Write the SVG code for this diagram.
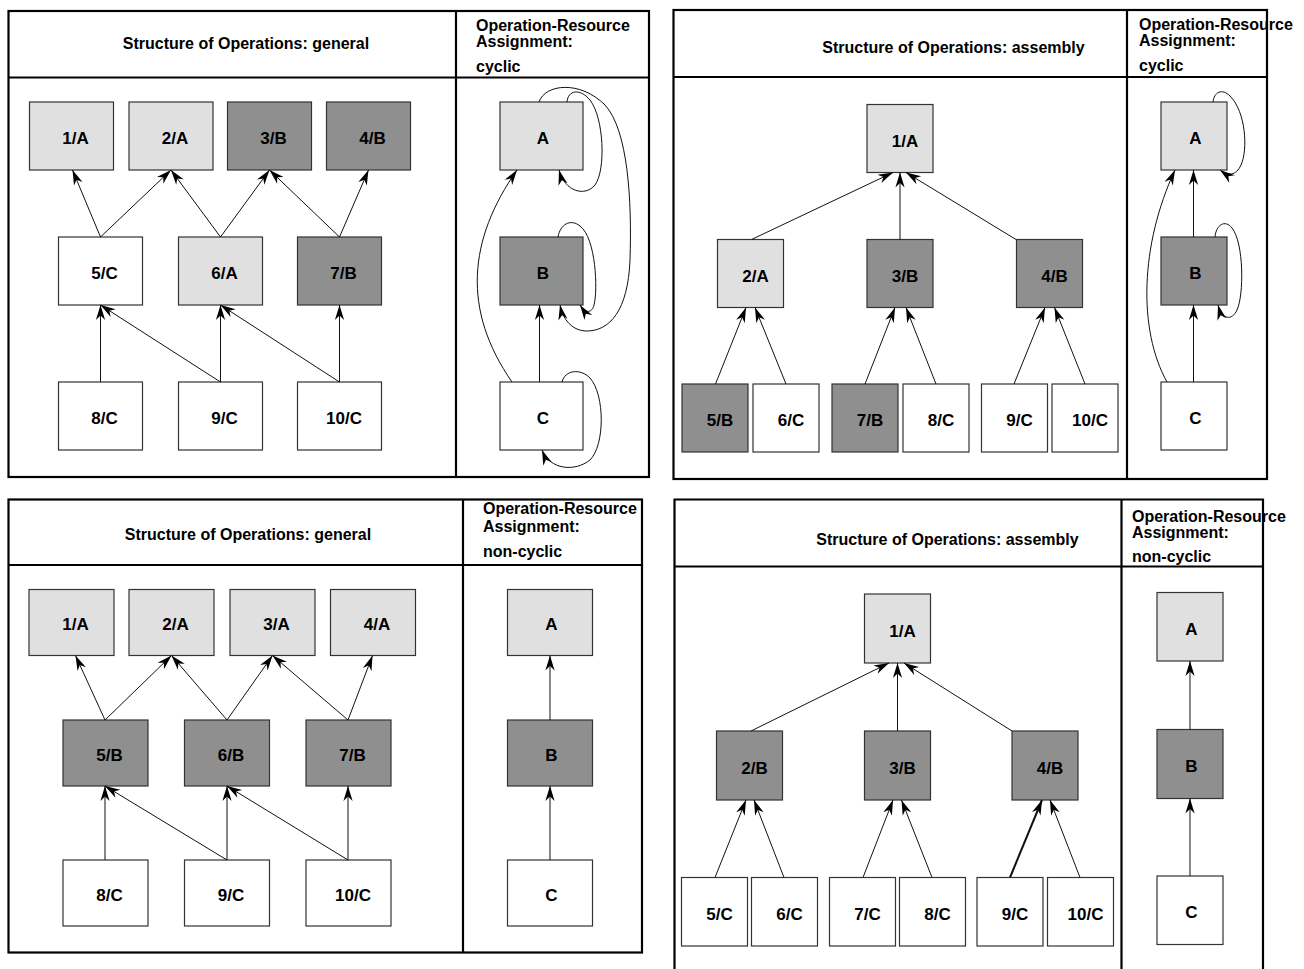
<svg xmlns="http://www.w3.org/2000/svg" width="1304" height="969" viewBox="0 0 1304 969">
<style>
text{font-family:"Liberation Sans",Arial,Helvetica,sans-serif;font-weight:bold;font-size:16px;fill:#000}
.lbl{text-anchor:middle;font-size:17px}
.ttl{text-anchor:middle}
.frame{fill:none;stroke:#000;stroke-width:2.2}
.light{fill:#e0e0e0;stroke:#333;stroke-width:1.2}
.dark{fill:#8f8f8f;stroke:#333;stroke-width:1.2}
.white{fill:#fff;stroke:#333;stroke-width:1.2}
.e{fill:none;stroke:#111;stroke-width:1;marker-end:url(#ah)}
.thick{stroke-width:2}
</style>
<defs>
<marker id="ah" viewBox="-16 -6 17 12" refX="0" refY="0" markerWidth="17" markerHeight="12" markerUnits="userSpaceOnUse" orient="auto">
<path d="M0,0 L-15,-4.6 L-10.5,0 L-15,4.6 Z" fill="#000"/>
</marker>
</defs>
<rect width="1304" height="969" fill="#fff"/>

<!-- Panel 1: top-left -->
<g id="panel1">
<rect class="frame" x="8.5" y="11" width="640.5" height="466"/>
<line class="frame" x1="456" y1="11" x2="456" y2="477"/>
<line class="frame" x1="8.5" y1="77.5" x2="649" y2="77.5"/>
<text class="ttl" x="246" y="48.5">Structure of Operations: general</text>
<text x="476" y="30.5">Operation-Resource</text>
<text x="476" y="47">Assignment:</text>
<text x="476" y="72">cyclic</text>
</g>
<g id="p1-n1"><rect class="light" x="29.5" y="102" width="84" height="68"/><text class="lbl" x="75.5" y="144">1/A</text></g>
<g id="p1-n2"><rect class="light" x="129" y="102" width="84" height="68"/><text class="lbl" x="175" y="144">2/A</text></g>
<g id="p1-n3"><rect class="dark" x="227.5" y="102" width="84" height="68"/><text class="lbl" x="273.5" y="144">3/B</text></g>
<g id="p1-n4"><rect class="dark" x="326.5" y="102" width="84" height="68"/><text class="lbl" x="372.5" y="144">4/B</text></g>
<g id="p1-n5"><rect class="white" x="58.5" y="237" width="84" height="68"/><text class="lbl" x="104.5" y="279">5/C</text></g>
<g id="p1-n6"><rect class="light" x="178.5" y="237" width="84" height="68"/><text class="lbl" x="224.5" y="279">6/A</text></g>
<g id="p1-n7"><rect class="dark" x="297.5" y="237" width="84" height="68"/><text class="lbl" x="343.5" y="279">7/B</text></g>
<g id="p1-n8"><rect class="white" x="58.5" y="382" width="84" height="68"/><text class="lbl" x="104.5" y="424">8/C</text></g>
<g id="p1-n9"><rect class="white" x="178.5" y="382" width="84" height="68"/><text class="lbl" x="224.5" y="424">9/C</text></g>
<g id="p1-n10"><rect class="white" x="297.5" y="382" width="84" height="68"/><text class="lbl" x="344" y="424">10/C</text></g>
<g id="p1-rA"><rect class="light" x="500" y="102" width="83" height="68"/><text class="lbl" x="543" y="144">A</text></g>
<g id="p1-rB"><rect class="dark" x="500" y="237" width="83" height="68"/><text class="lbl" x="543" y="279">B</text></g>
<g id="p1-rC"><rect class="white" x="500" y="382" width="83" height="68"/><text class="lbl" x="543" y="424">C</text></g>
<g id="p1-connectors">
<path class="e" d="M100.5,237 L72.5,170"/>
<path class="e" d="M100.5,237 L171,170"/>
<path class="e" d="M220.5,237 L171,170"/>
<path class="e" d="M220.5,237 L269.5,170"/>
<path class="e" d="M339.5,237 L269.5,170"/>
<path class="e" d="M339.5,237 L368.5,170"/>
<path class="e" d="M100.5,382 L100.5,305"/>
<path class="e" d="M220.5,382 L100.5,305"/>
<path class="e" d="M220.5,382 L220.5,305"/>
<path class="e" d="M339.5,382 L220.5,305"/>
<path class="e" d="M339.5,382 L339.5,305"/>
<path class="e" d="M539.5,382 L539.5,305"/>
<path class="e" d="M512,382 C462,310 468,240 517,170"/>
<path class="e" d="M539,102 C545,84 580,80 605,105 C628,130 632,200 630,260 C628,310 610,332 585,331 C572,330 563,320 560,305"/>
<path class="e" d="M567,102 C568,90 580,88 590,100 C604,118 606,170 595,185 C585,197 565,192 559,170"/>
<path class="e" d="M558,237 C560,225 570,218 580,226 C596,238 598,290 594,305 C592,313 586,314 580,305"/>
<path class="e" d="M562,382 C565,370 580,368 590,378 C605,395 605,445 590,460 C575,472 550,470 542,450"/>
</g>

<!-- Panel 2: top-right -->
<g id="panel2">
<rect class="frame" x="673.5" y="10" width="593.5" height="469"/>
<line class="frame" x1="1127" y1="10" x2="1127" y2="479"/>
<line class="frame" x1="673.5" y1="77" x2="1267" y2="77"/>
<text class="ttl" x="953.5" y="52.5">Structure of Operations: assembly</text>
<text x="1139" y="29.5">Operation-Resource</text>
<text x="1139" y="46">Assignment:</text>
<text x="1139" y="70.5">cyclic</text>
</g>
<g id="p2-n1"><rect class="light" x="867" y="104.5" width="66" height="68"/><text class="lbl" x="905" y="146.5">1/A</text></g>
<g id="p2-n2"><rect class="light" x="717.5" y="239.5" width="66" height="68"/><text class="lbl" x="755.5" y="281.5">2/A</text></g>
<g id="p2-n3"><rect class="dark" x="867" y="239.5" width="66" height="68"/><text class="lbl" x="905" y="281.5">3/B</text></g>
<g id="p2-n4"><rect class="dark" x="1016.5" y="239.5" width="66" height="68"/><text class="lbl" x="1054.5" y="281.5">4/B</text></g>
<g id="p2-n5"><rect class="dark" x="682" y="384" width="66" height="68"/><text class="lbl" x="720" y="426">5/B</text></g>
<g id="p2-n6"><rect class="white" x="753" y="384" width="66" height="68"/><text class="lbl" x="791" y="426">6/C</text></g>
<g id="p2-n7"><rect class="dark" x="832" y="384" width="66" height="68"/><text class="lbl" x="870" y="426">7/B</text></g>
<g id="p2-n8"><rect class="white" x="903" y="384" width="66" height="68"/><text class="lbl" x="941" y="426">8/C</text></g>
<g id="p2-n9"><rect class="white" x="981.5" y="384" width="66" height="68"/><text class="lbl" x="1019.5" y="426">9/C</text></g>
<g id="p2-n10"><rect class="white" x="1052" y="384" width="66" height="68"/><text class="lbl" x="1090" y="426">10/C</text></g>
<g id="p2-rA"><rect class="light" x="1161" y="102" width="66" height="68"/><text class="lbl" x="1195.5" y="144">A</text></g>
<g id="p2-rB"><rect class="dark" x="1161" y="237" width="66" height="68"/><text class="lbl" x="1195.5" y="279">B</text></g>
<g id="p2-rC"><rect class="white" x="1161" y="382" width="66" height="68"/><text class="lbl" x="1195.5" y="424">C</text></g>
<g id="p2-connectors">
<path class="e" d="M751.5,239.5 L893,172.5"/>
<path class="e" d="M900,239.5 L900,172.5"/>
<path class="e" d="M1016,239.5 L906,172.5"/>
<path class="e" d="M715.5,384 L746,307.5"/>
<path class="e" d="M786,384 L755,307.5"/>
<path class="e" d="M865,384 L895,307.5"/>
<path class="e" d="M936,384 L906,307.5"/>
<path class="e" d="M1014,384 L1045,307.5"/>
<path class="e" d="M1085,384 L1054.5,307.5"/>
<path class="e" d="M1193.5,237 L1193.5,170"/>
<path class="e" d="M1193.5,382 L1193.5,305"/>
<path class="e" d="M1167,382 C1138,330 1140,245 1175,170"/>
<path class="e" d="M1213,102 C1214,92 1222,88 1230,96 C1246,112 1248,150 1241,165 C1236,176 1228,176 1220,170"/>
<path class="e" d="M1215,237 C1216,225 1225,219 1232,228 C1244,243 1244,295 1237,310 C1232,321 1222,320 1218,305"/>
</g>

<!-- Panel 3: bottom-left -->
<g id="panel3">
<rect class="frame" x="8.5" y="499.5" width="633.5" height="453"/>
<line class="frame" x1="463" y1="499.5" x2="463" y2="952.5"/>
<line class="frame" x1="8.5" y1="565" x2="642" y2="565"/>
<text class="ttl" x="248" y="540">Structure of Operations: general</text>
<text x="483" y="513.5">Operation-Resource</text>
<text x="483" y="531.5">Assignment:</text>
<text x="483" y="556.5">non-cyclic</text>
</g>
<g id="p3-n1"><rect class="light" x="29" y="589.5" width="85" height="66"/><text class="lbl" x="75.5" y="630">1/A</text></g>
<g id="p3-n2"><rect class="light" x="129" y="589.5" width="85" height="66"/><text class="lbl" x="175.5" y="630">2/A</text></g>
<g id="p3-n3"><rect class="light" x="230" y="589.5" width="85" height="66"/><text class="lbl" x="276.5" y="630">3/A</text></g>
<g id="p3-n4"><rect class="light" x="330.5" y="589.5" width="85" height="66"/><text class="lbl" x="377" y="630">4/A</text></g>
<g id="p3-n5"><rect class="dark" x="63" y="720" width="85" height="66"/><text class="lbl" x="109.5" y="760.5">5/B</text></g>
<g id="p3-n6"><rect class="dark" x="184.5" y="720" width="85" height="66"/><text class="lbl" x="231" y="760.5">6/B</text></g>
<g id="p3-n7"><rect class="dark" x="306" y="720" width="85" height="66"/><text class="lbl" x="352.5" y="760.5">7/B</text></g>
<g id="p3-n8"><rect class="white" x="63" y="860" width="85" height="66"/><text class="lbl" x="109.5" y="900.5">8/C</text></g>
<g id="p3-n9"><rect class="white" x="184.5" y="860" width="85" height="66"/><text class="lbl" x="231" y="900.5">9/C</text></g>
<g id="p3-n10"><rect class="white" x="306" y="860" width="85" height="66"/><text class="lbl" x="353" y="900.5">10/C</text></g>
<g id="p3-rA"><rect class="light" x="507.5" y="589.5" width="85" height="66"/><text class="lbl" x="551.5" y="630">A</text></g>
<g id="p3-rB"><rect class="dark" x="507.5" y="720" width="85" height="66"/><text class="lbl" x="551.5" y="760.5">B</text></g>
<g id="p3-rC"><rect class="white" x="507.5" y="860" width="85" height="66"/><text class="lbl" x="551.5" y="900.5">C</text></g>
<g id="p3-connectors">
<path class="e" d="M105,720 L75.5,655.5"/>
<path class="e" d="M105,720 L171.5,655.5"/>
<path class="e" d="M227,720 L171.5,655.5"/>
<path class="e" d="M227,720 L272.5,655.5"/>
<path class="e" d="M348,720 L272.5,655.5"/>
<path class="e" d="M348,720 L372.5,655.5"/>
<path class="e" d="M105,860 L105,786"/>
<path class="e" d="M227,860 L105,786"/>
<path class="e" d="M227,860 L227,786"/>
<path class="e" d="M348,860 L227,786"/>
<path class="e" d="M348,860 L348,786"/>
<path class="e" d="M550,860 L550,786"/>
<path class="e" d="M550,720 L550,655.5"/>
</g>

<!-- Panel 4: bottom-right -->
<g id="panel4">
<path class="frame" d="M674.5,969 L674.5,499.5 L1263,499.5 L1263,969"/>
<line class="frame" x1="1121.5" y1="499.5" x2="1121.5" y2="969"/>
<line class="frame" x1="674.5" y1="566.5" x2="1263" y2="566.5"/>
<text class="ttl" x="947.5" y="544.5">Structure of Operations: assembly</text>
<text x="1132" y="521.5">Operation-Resource</text>
<text x="1132" y="538">Assignment:</text>
<text x="1132" y="562">non-cyclic</text>
</g>
<g id="p4-n1"><rect class="light" x="864.5" y="594" width="66" height="69"/><text class="lbl" x="902.5" y="636.5">1/A</text></g>
<g id="p4-n2"><rect class="dark" x="716.5" y="731" width="66" height="69"/><text class="lbl" x="754.5" y="773.5">2/B</text></g>
<g id="p4-n3"><rect class="dark" x="864.5" y="731" width="66" height="69"/><text class="lbl" x="902.5" y="773.5">3/B</text></g>
<g id="p4-n4"><rect class="dark" x="1012" y="731" width="66" height="69"/><text class="lbl" x="1050" y="773.5">4/B</text></g>
<g id="p4-n5"><rect class="white" x="681.5" y="877.5" width="66" height="68.5"/><text class="lbl" x="719.5" y="920">5/C</text></g>
<g id="p4-n6"><rect class="white" x="751.5" y="877.5" width="66" height="68.5"/><text class="lbl" x="789.5" y="920">6/C</text></g>
<g id="p4-n7"><rect class="white" x="829.5" y="877.5" width="66" height="68.5"/><text class="lbl" x="867.5" y="920">7/C</text></g>
<g id="p4-n8"><rect class="white" x="899.5" y="877.5" width="66" height="68.5"/><text class="lbl" x="937.5" y="920">8/C</text></g>
<g id="p4-n9"><rect class="white" x="977" y="877.5" width="66" height="68.5"/><text class="lbl" x="1015" y="920">9/C</text></g>
<g id="p4-n10"><rect class="white" x="1047.5" y="877.5" width="66" height="68.5"/><text class="lbl" x="1085.5" y="920">10/C</text></g>
<g id="p4-rA"><rect class="light" x="1157" y="592.5" width="66" height="68.5"/><text class="lbl" x="1191.5" y="634.5">A</text></g>
<g id="p4-rB"><rect class="dark" x="1157" y="729.5" width="66" height="69"/><text class="lbl" x="1191.5" y="771.5">B</text></g>
<g id="p4-rC"><rect class="white" x="1157" y="876" width="66" height="68.5"/><text class="lbl" x="1191.5" y="918">C</text></g>
<g id="p4-connectors">
<path class="e" d="M751,731 L889,663"/>
<path class="e" d="M897.5,731 L897.5,663"/>
<path class="e" d="M1012,731 L904,663"/>
<path class="e" d="M715,877.5 L746,800"/>
<path class="e" d="M784,877.5 L754,800"/>
<path class="e" d="M863,877.5 L893,800"/>
<path class="e" d="M932,877.5 L901.5,800"/>
<path class="e thick" d="M1010,877.5 L1042,800"/>
<path class="e" d="M1080,877.5 L1050,800"/>
<path class="e" d="M1190,876 L1190,798.5"/>
<path class="e" d="M1190,729.5 L1190,661"/>
</g>
</svg>
